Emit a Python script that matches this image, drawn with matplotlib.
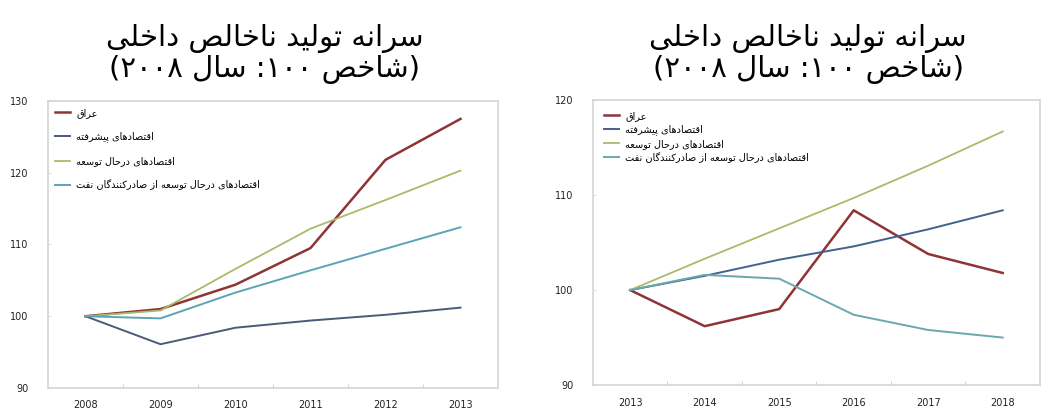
import re
import matplotlib
matplotlib.use('Agg')
import matplotlib.pyplot as plt

# داده‌ها (شاخص: سال پایه = ۱۰۰)
years_a = ['2008', '2009', '2010', '2011', '2012', '2013']
iraq_a = [100, 101.0, 104.4, 109.5, 121.8, 127.5]
adv_a = [100, 96.1, 98.4, 99.4, 100.2, 101.2]
dev_a = [100, 100.8, 106.6, 112.2, 116.2, 120.3]
oil_a = [100, 99.7, 103.3, 106.4, 109.4, 112.4]

years_b = ['2013', '2014', '2015', '2016', '2017', '2018']
iraq_b = [100, 96.2, 98.0, 108.4, 103.8, 101.8]
adv_b = [100, 101.5, 103.2, 104.6, 106.4, 108.4]
dev_b = [100, 103.3, 106.5, 109.7, 113.1, 116.7]
oil_b = [100, 101.6, 101.2, 97.4, 95.8, 95.0]

labels = ['عراق', 'اقتصادهای پیشرفته', 'اقتصادهای درحال توسعه',
          'اقتصادهای درحال توسعه از صادرکنندگان نفت']
title_1 = 'سرانه تولید ناخالص داخلی'
title_2 = '(شاخص ۱۰۰: سال ۲۰۰۸)'

# --- شکل‌دهی حروف فارسی و راست به چپ (matplotlib خودش انجام نمی‌دهد) ---
# (isolated, final, initial, medial)
FORMS = {
    'ا': ('\uFE8D', '\uFE8E', None, None), 'آ': ('\uFE81', '\uFE82', None, None),
    'ب': ('\uFE8F', '\uFE90', '\uFE91', '\uFE92'), 'پ': ('\uFB56', '\uFB57', '\uFB58', '\uFB59'),
    'ت': ('\uFE95', '\uFE96', '\uFE97', '\uFE98'), 'ث': ('\uFE99', '\uFE9A', '\uFE9B', '\uFE9C'),
    'ج': ('\uFE9D', '\uFE9E', '\uFE9F', '\uFEA0'), 'چ': ('\uFB7A', '\uFB7B', '\uFB7C', '\uFB7D'),
    'ح': ('\uFEA1', '\uFEA2', '\uFEA3', '\uFEA4'), 'خ': ('\uFEA5', '\uFEA6', '\uFEA7', '\uFEA8'),
    'د': ('\uFEA9', '\uFEAA', None, None), 'ذ': ('\uFEAB', '\uFEAC', None, None),
    'ر': ('\uFEAD', '\uFEAE', None, None), 'ز': ('\uFEAF', '\uFEB0', None, None),
    'ژ': ('\uFB8A', '\uFB8B', None, None),
    'س': ('\uFEB1', '\uFEB2', '\uFEB3', '\uFEB4'), 'ش': ('\uFEB5', '\uFEB6', '\uFEB7', '\uFEB8'),
    'ص': ('\uFEB9', '\uFEBA', '\uFEBB', '\uFEBC'), 'ض': ('\uFEBD', '\uFEBE', '\uFEBF', '\uFEC0'),
    'ط': ('\uFEC1', '\uFEC2', '\uFEC3', '\uFEC4'), 'ظ': ('\uFEC5', '\uFEC6', '\uFEC7', '\uFEC8'),
    'ع': ('\uFEC9', '\uFECA', '\uFECB', '\uFECC'), 'غ': ('\uFECD', '\uFECE', '\uFECF', '\uFED0'),
    'ف': ('\uFED1', '\uFED2', '\uFED3', '\uFED4'), 'ق': ('\uFED5', '\uFED6', '\uFED7', '\uFED8'),
    'ک': ('\uFB8E', '\uFB8F', '\uFB90', '\uFB91'), 'گ': ('\uFB92', '\uFB93', '\uFB94', '\uFB95'),
    'ل': ('\uFEDD', '\uFEDE', '\uFEDF', '\uFEE0'), 'م': ('\uFEE1', '\uFEE2', '\uFEE3', '\uFEE4'),
    'ن': ('\uFEE5', '\uFEE6', '\uFEE7', '\uFEE8'), 'و': ('\uFEED', '\uFEEE', None, None),
    'ه': ('\uFEE9', '\uFEEA', '\uFEEB', '\uFEEC'), 'ی': ('\uFBFC', '\uFBFD', '\uFBFE', '\uFBFF'),
}


def is_dual(c):
    return c in FORMS and FORMS[c][2] is not None


def rtl(text):
    out = []
    for i, c in enumerate(text):
        if c not in FORMS:
            out.append(c)
            continue
        prev = text[i - 1] if i > 0 else ''
        nxt = text[i + 1] if i + 1 < len(text) else ''
        j_prev = is_dual(prev)
        j_next = is_dual(c) and nxt in FORMS
        f = FORMS[c]
        if j_prev and j_next:
            out.append(f[3])
        elif j_prev:
            out.append(f[1])
        elif j_next:
            out.append(f[2])
        else:
            out.append(f[0])
    s = ''.join(reversed(out))
    # اعداد چپ به راست می‌مانند، پرانتزها قرینه می‌شوند
    s = re.sub(r'[0-9\u06F0-\u06F9]+', lambda m: m.group(0)[::-1], s)
    return s.translate(str.maketrans('()', ')('))


plt.rcParams['font.family'] = ['DejaVu Sans']

c_iraq = '#8e3436'
c_dev = '#a9bb6a'

fig = plt.figure(figsize=(10.41, 4.19), dpi=100)
ax1 = fig.add_axes([0.0461, 0.074, 0.4323, 0.685])
ax2 = fig.add_axes([0.5696, 0.081, 0.4294, 0.680])

panels = [
    (ax1, years_a, [iraq_a, adv_a, dev_a, oil_a], ['#4a5b78', '#5ba4b5'], (90, 130), 1.4, 0.3),
    (ax2, years_b, [iraq_b, adv_b, dev_b, oil_b], ['#41628a', '#6aa8ae'], (90, 120), 0.35, 0.7),
]

for ax, years, series, cols, ylim, lsp, pad in panels:
    x = range(len(years))
    colors = [c_iraq, cols[0], c_dev, cols[1]]
    widths = [1.8, 1.4, 1.3, 1.4]
    for s, col, lw, lab in zip(series, colors, widths, labels):
        ax.plot(x, s, color=col, lw=lw, label=rtl(lab))
    ax.set_xlim(-0.5, len(years) - 0.5)
    ax.set_ylim(*ylim)
    ax.set_yticks(range(ylim[0], ylim[1] + 1, 10))
    ax.set_xticks(list(x))
    ax.set_xticklabels(years)
    ax.set_xticks([i + 0.5 for i in range(len(years) - 1)], minor=True)
    ax.tick_params(axis='x', which='major', length=0, pad=9, labelsize=7, labelcolor='#222222')
    ax.tick_params(axis='x', which='minor', length=3, direction='in', color='#cccccc')
    ax.tick_params(axis='y', length=2, direction='in', color='#dddddd', pad=14,
                   labelsize=7, labelcolor='#222222')
    for sp in ax.spines.values():
        sp.set_color('#d4d4d4')
        sp.set_linewidth(1.2)
    ax.legend(loc='upper left', frameon=False, fontsize=7, handlelength=1.6,
              handletextpad=0.6, labelspacing=lsp, borderaxespad=pad)
    pos = ax.get_position()
    fig.text((pos.x0 + pos.x1) / 2 - 0.008, 1 - 54 / 419, rtl(title_1) + '\n' + rtl(title_2),
             ha='center', va='center', fontsize=21, linespacing=1.12)

fig.savefig('out.png', dpi=100)
